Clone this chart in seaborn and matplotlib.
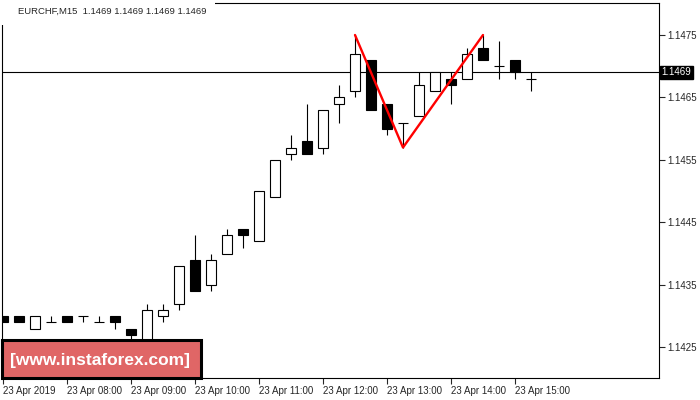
import numpy as np
import pandas as pd
import seaborn as sns
import matplotlib
matplotlib.use('Agg')
import matplotlib.pyplot as plt
from matplotlib.patches import Rectangle

# EURCHF M15 candles, 23 Apr 2019 07:00 .. 15:15
times = pd.date_range('2019-04-23 07:00', periods=34, freq='15min')
opens = [1.1430, 1.1430, 1.1428, 1.1429, 1.1430, 1.1430, 1.1429, 1.1430,
         1.1428, 1.1425, 1.1430, 1.1432, 1.1439, 1.1435, 1.1440, 1.1444,
         1.1442, 1.1449, 1.1456, 1.1458, 1.1457, 1.1464, 1.1466, 1.1471,
         1.1464, 1.1461, 1.1462, 1.1466, 1.1468, 1.1468, 1.1473, 1.1470,
         1.1471, 1.1468]
highs = [1.1430, 1.1430, 1.1430, 1.1430, 1.1430, 1.1430, 1.1430, 1.1430,
         1.1428, 1.1432, 1.1432, 1.1438, 1.1443, 1.1440, 1.1444, 1.1444,
         1.1450, 1.1455, 1.1459, 1.1464, 1.1463, 1.1467, 1.1475, 1.1471,
         1.1464, 1.1461, 1.1469, 1.1469, 1.1469, 1.1473, 1.1475, 1.1474,
         1.1471, 1.1469]
lows = [1.1429, 1.1429, 1.1428, 1.1429, 1.1429, 1.1429, 1.1429, 1.1428,
        1.1425, 1.1424, 1.1429, 1.1431, 1.1434, 1.1434, 1.1440, 1.1441,
        1.1442, 1.1449, 1.1455, 1.1456, 1.1456, 1.1461, 1.1465, 1.1463,
        1.1459, 1.1457, 1.1462, 1.1466, 1.1464, 1.1468, 1.1471, 1.1468,
        1.1468, 1.1466]
closes = [1.1429, 1.1429, 1.1430, 1.1429, 1.1429, 1.1430, 1.1429, 1.1429,
          1.1427, 1.1431, 1.1431, 1.1438, 1.1434, 1.1439, 1.1443, 1.1443,
          1.1450, 1.1455, 1.1457, 1.1456, 1.1463, 1.1465, 1.1472, 1.1463,
          1.1460, 1.1461, 1.1467, 1.1469, 1.1467, 1.1472, 1.1471, 1.1470,
          1.1469, 1.1468]

# double top pattern: peak - trough - peak
pattern_bars = [22, 25, 30]
pattern_prices = [1.1475, 1.1457, 1.1475]

symbol = 'EURCHF,M15'
last_price = 1.1469
y_ticks = [1.1425, 1.1435, 1.1445, 1.1455, 1.1465, 1.1475]
x_tick_bars = [0, 4, 8, 12, 16, 20, 24, 28, 32]
x_tick_labels = ['23 Apr 2019', '23 Apr 08:00', '23 Apr 09:00', '23 Apr 10:00',
                 '23 Apr 11:00', '23 Apr 12:00', '23 Apr 13:00', '23 Apr 14:00',
                 '23 Apr 15:00']

df = pd.DataFrame({'time': times, 'open': opens, 'high': highs,
                   'low': lows, 'close': closes})
df['bar'] = np.arange(len(df))
up = df[df.close > df.open + 1e-9]
down = df[df.close < df.open - 1e-9]
flat = df[np.isclose(df.close, df.open)]

sns.set_style('white')
plt.rcParams['font.family'] = ['Liberation Sans', 'DejaVu Sans']

fig = plt.figure(figsize=(7, 4), dpi=100)
ax = fig.add_axes([2 / 700, 22 / 400, 657 / 700, 375 / 400])

w = 0.66
ax.vlines(df.bar, df.low, df.high, color='black', lw=0.8, zorder=2)
ax.bar(up.bar, up.close - up.open, bottom=up.open, width=w,
       color='white', edgecolor='black', lw=0.8, zorder=3)
ax.bar(down.bar, down.open - down.close, bottom=down.close, width=w,
       color='black', edgecolor='black', lw=0.8, zorder=3)
ax.hlines(flat.open, flat.bar - w / 2, flat.bar + w / 2, color='black', lw=0.8, zorder=3)

ax.axhline(last_price, color='black', lw=0.8, zorder=1)
sns.lineplot(x=pattern_bars, y=pattern_prices, color='red', lw=1.7, ax=ax, zorder=5)

ax.set_xlim(-0.0625, 41)
ax.set_ylim(1.142012, 1.148012)

ax.set_xticks(x_tick_bars)
ax.set_xticklabels(x_tick_labels, ha='left')
ax.yaxis.tick_right()
ax.set_yticks(y_ticks)
ax.set_yticklabels([f'{v:.4f}' for v in y_ticks])
ax.tick_params(axis='x', direction='out', length=4, width=0.8, pad=2, labelsize=7, bottom=True)
ax.tick_params(axis='y', direction='out', length=4, width=0.8, pad=2, labelsize=7, right=True)
for s in ax.spines.values():
    s.set_color('black')
    s.set_linewidth(0.8)
ax.set_xlabel('')
ax.set_ylabel('')

# current price tag on the price scale
ax.text(1.004, last_price, f'{last_price:.4f}', transform=ax.get_yaxis_transform(),
        ha='left', va='center', color='white', fontsize=7,
        bbox=dict(boxstyle='square,pad=0.15', fc='black', ec='black'))

# title block
fig.patches.append(Rectangle((0, 375 / 400), 215 / 700, 25 / 400, transform=fig.transFigure,
                             fc='white', ec='none', zorder=5))
fig.text(18 / 700, 1 - 11 / 400, f'{symbol}  ' + ' '.join([f'{last_price:.4f}'] * 4),
         ha='left', va='center', fontsize=6.8, zorder=6)

# watermark
ax.add_patch(Rectangle((0, 0), 199 / 657, 38 / 375, transform=ax.transAxes,
                       fc='#E06666', ec='black', lw=2.2, zorder=6, clip_on=False))
ax.text(98 / 657, 18 / 375, '[www.instaforex.com]', transform=ax.transAxes,
        ha='center', va='center', color='white', fontsize=12.5, fontweight='bold', zorder=7)

fig.savefig('out.png', dpi=100)
